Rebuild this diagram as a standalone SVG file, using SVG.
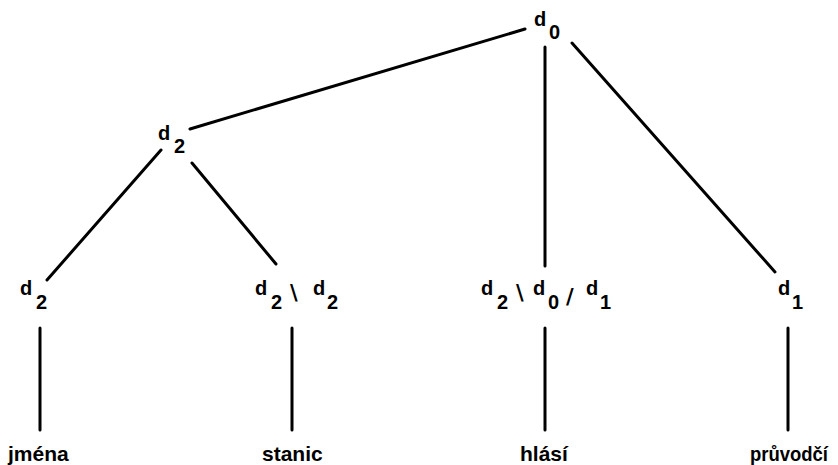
<svg xmlns="http://www.w3.org/2000/svg" width="838" height="465" viewBox="0 0 838 465">
<style>
.l{font-family:"Liberation Sans",Arial,sans-serif;font-size:20px;font-weight:bold;fill:#000}
.s{font-family:"DejaVu Sans",sans-serif;font-size:21px;font-weight:bold;fill:#000}
.w{font-family:"Liberation Sans",Arial,sans-serif;font-size:21px;font-weight:bold;fill:#000}
.c{stroke:#000;stroke-width:3;stroke-linecap:round;fill:none}
</style>
<rect width="838" height="465" fill="#fff"/>
<g id="connectors">
<line class="c" x1="525" y1="29" x2="190" y2="129"/>
<line class="c" x1="545" y1="47" x2="545" y2="266"/>
<line class="c" x1="572" y1="43" x2="775" y2="272"/>
<line class="c" x1="161" y1="150" x2="47" y2="280"/>
<line class="c" x1="192" y1="163" x2="276" y2="264"/>
<line class="c" x1="40" y1="328" x2="40" y2="430"/>
<line class="c" x1="292" y1="328" x2="292" y2="430"/>
<line class="c" x1="545" y1="328" x2="545" y2="430"/>
<line class="c" x1="788" y1="328" x2="788" y2="430"/>
</g>
<g id="n-root">
<text class="l" x="534" y="26">d</text><text class="l" x="549" y="39">0</text>
</g>
<g id="n-mid">
<text class="l" x="158" y="140">d</text><text class="l" x="174" y="153">2</text>
</g>
<g id="n-d2">
<text class="l" x="20" y="295">d</text><text class="l" x="36" y="309">2</text>
</g>
<g id="n-d2d2">
<text class="l" x="255" y="295">d</text><text class="l" x="271" y="309">2</text>
<text class="s" x="290" y="300">\</text>
<text class="l" x="313" y="295">d</text><text class="l" x="327" y="309">2</text>
</g>
<g id="n-d2d0d1">
<text class="l" x="481" y="295">d</text><text class="l" x="497" y="309">2</text>
<text class="s" x="516" y="300">\</text>
<text class="l" x="533" y="295">d</text><text class="l" x="548" y="309">0</text>
<text class="s" x="566" y="304">/</text>
<text class="l" x="586" y="295">d</text><text class="l" x="600" y="309">1</text>
</g>
<g id="n-d1">
<text class="l" x="778" y="295">d</text><text class="l" x="792" y="309">1</text>
</g>
<g id="w-jmena"><text class="w" x="8" y="461">jména</text></g>
<g id="w-stanic"><text class="w" x="262" y="461">stanic</text></g>
<g id="w-hlasi"><text class="w" x="520" y="461">hlásí</text></g>
<g id="w-pruvodci"><text class="w" x="750" y="461" textLength="78" lengthAdjust="spacingAndGlyphs">průvodčí</text></g>
</svg>
